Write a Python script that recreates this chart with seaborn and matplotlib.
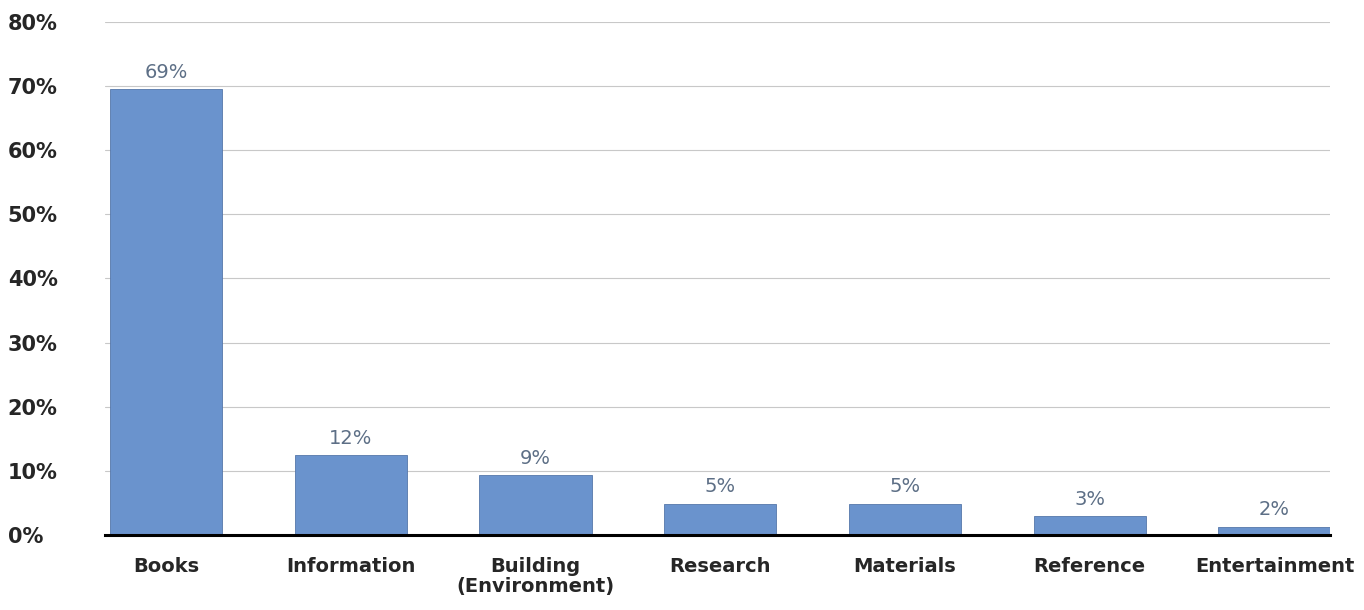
import pandas as pd
import matplotlib.pyplot as plt
import seaborn as sns

categories = ['Books', 'Information', 'Building\n(Environment)', 'Research',
              'Materials', 'Reference', 'Entertainment']
values = [69.5, 12.4, 9.3, 4.8, 4.8, 2.9, 1.3]
labels = ['69%', '12%', '9%', '5%', '5%', '3%', '2%']
yticks = [0, 10, 20, 30, 40, 50, 60, 70, 80]

df = pd.DataFrame({'category': categories, 'share': values})

sns.set_style('white')
plt.rcParams['font.family'] = ['DejaVu Sans']

fig = plt.figure(figsize=(13.64, 6.10), dpi=100)
ax = fig.add_axes([0.077, 0.123, 0.898, 0.841])

sns.barplot(data=df, x='category', y='share', color='#6A93CD', width=0.607,
            saturation=1, edgecolor='#5577AA', linewidth=0.6, ax=ax, zorder=3)

for i, (v, lab) in enumerate(zip(values, labels)):
    ax.text(i, v + 1.2, lab, ha='center', va='bottom', fontsize=14,
            color='#5D6F86')

ax.set_ylim(0, 80)
ax.set_xlim(-0.33, 6.30)
ax.set_yticks(yticks)
ax.set_yticklabels([f'{t}%' for t in yticks], fontsize=15, fontweight='bold',
                   color='#262626')
ax.set_xticks(range(len(categories)))
ax.set_xticklabels(categories, fontsize=14, fontweight='bold', color='#262626',
                   linespacing=1.05)
ax.tick_params(axis='y', length=0, pad=70)
ax.tick_params(axis='x', length=0, pad=16)
for lbl in ax.get_yticklabels():
    lbl.set_horizontalalignment('left')
ax.set_xlabel('')
ax.set_ylabel('')

ax.yaxis.grid(True, color='#c8c8c8', linewidth=0.8, zorder=0)
for s in ['top', 'right', 'left']:
    ax.spines[s].set_visible(False)
ax.spines['bottom'].set_color('black')
ax.spines['bottom'].set_linewidth(2.2)
ax.spines['bottom'].set_zorder(4)

fig.savefig('out.png', dpi=100)
